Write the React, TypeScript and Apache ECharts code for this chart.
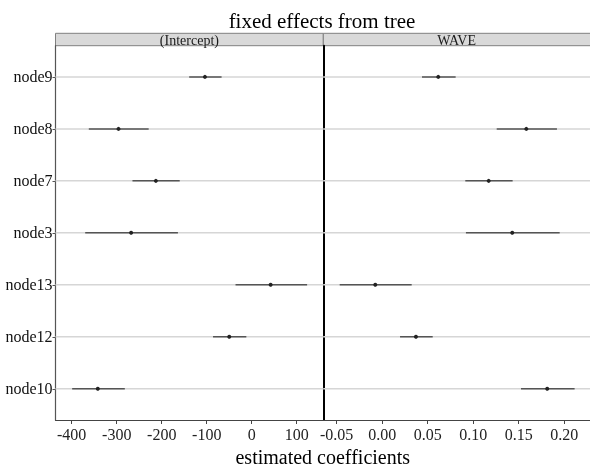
import React, { useEffect, useRef } from "react";
import * as echarts from "echarts";

const categories = ["node9", "node8", "node7", "node3", "node13", "node12", "node10"];

const interceptEst = [-104, -296, -213, -268, 42, -50, -342];
const interceptLow = [-139, -362, -265, -370, -36, -86, -399];
const interceptHigh = [-67, -229, -160, -164, 123, -12, -282];

const waveEst = [0.0616, 0.1583, 0.117, 0.1429, -0.0076, 0.0371, 0.1813];
const waveLow = [0.0437, 0.1258, 0.0913, 0.092, -0.0467, 0.0196, 0.1525];
const waveHigh = [0.0807, 0.192, 0.1433, 0.195, 0.0324, 0.0555, 0.2114];

const interceptTicks = [-400, -300, -200, -100, 0, 100];
const waveTicks = [-0.05, 0, 0.05, 0.1, 0.15, 0.2];

const panelNames = ["(Intercept)", "WAVE"];
const titleText = "fixed effects from tree";
const xTitle = "estimated coefficients";

const FONT = "'Liberation Serif', 'Times New Roman', serif";

const L = 55.5;
const MID = 323.3;
const R = 590;
const TOP = 45.7;
const BOTTOM = 420;
const STRIP_TOP = 33.3;

export default function App() {
  const ref = useRef<HTMLDivElement>(null);

  useEffect(() => {
    document.body.style.margin = "0";
    if (!ref.current) return;
    const chart = echarts.init(ref.current, null, { renderer: "svg" });

    const yIdx = categories.map((_, i) => i + 1);

    const errData = (low: number[], high: number[], est: number[]) =>
      categories.map((_, i) => [i + 1, low[i], high[i], est[i]]);

    const errSeries = (k: number, low: number[], high: number[], est: number[]) => ({
      type: "custom",
      xAxisIndex: k,
      yAxisIndex: k,
      z: 5,
      silent: true,
      data: errData(low, high, est),
      encode: { x: [1, 2, 3], y: 0 },
      renderItem: (params: any, api: any) => {
        const y = api.value(0);
        const p1 = api.coord([api.value(1), y]);
        const p2 = api.coord([api.value(2), y]);
        const pe = api.coord([api.value(3), y]);
        return {
          type: "group",
          children: [
            {
              type: "line",
              shape: { x1: p1[0], y1: p1[1], x2: p2[0], y2: p2[1] },
              style: { stroke: "#555555", lineWidth: 1.5 },
            },
            {
              type: "circle",
              shape: { cx: pe[0], cy: pe[1], r: 2 },
              style: { fill: "#222222" },
            },
          ],
        };
      },
    });

    const gridSeries = (k: number, xRef: number) => ({
      type: "custom",
      xAxisIndex: k,
      yAxisIndex: k,
      z: 1,
      silent: true,
      data: yIdx.map((v) => [xRef, v]),
      encode: { x: 0, y: 1 },
      renderItem: (params: any, api: any) => {
        const cs = params.coordSys;
        const p = api.coord([api.value(0), api.value(1)]);
        return {
          type: "line",
          shape: { x1: cs.x, y1: p[1], x2: cs.x + cs.width, y2: p[1] },
          style: { stroke: "#d6d6d6", lineWidth: 1.5 },
        };
      },
    });

    const xAxisCommon = {
      type: "value",
      splitLine: { show: false },
      axisLine: { show: true, onZero: false, lineStyle: { color: "#444444", width: 1.2 } },
      axisTick: { show: true, length: 4, lineStyle: { color: "#444444" } },
    };

    const option: any = {
      animation: false,
      title: {
        text: titleText,
        left: 317,
        textAlign: "center",
        top: 5,
        textStyle: { fontFamily: FONT, fontSize: 21, fontWeight: "normal", color: "#000" },
      },
      grid: [
        { left: L, right: 590 - MID, top: TOP, bottom: 467 - BOTTOM },
        { left: MID, right: 590 - R, top: TOP, bottom: 467 - BOTTOM },
      ],
      xAxis: [
        {
          ...xAxisCommon,
          gridIndex: 0,
          min: -436,
          max: 159,
          axisTick: { ...xAxisCommon.axisTick, customValues: interceptTicks },
          axisLabel: {
            customValues: interceptTicks,
            formatter: (v: number) => String(Math.round(v)),
            fontFamily: FONT,
            fontSize: 16,
            color: "#222",
            margin: 6,
          },
        },
        {
          ...xAxisCommon,
          gridIndex: 1,
          min: -0.0647,
          max: 0.2283,
          axisTick: { ...xAxisCommon.axisTick, customValues: waveTicks },
          axisLabel: {
            customValues: waveTicks,
            formatter: (v: number) => v.toFixed(2),
            fontFamily: FONT,
            fontSize: 16,
            color: "#222",
            margin: 6,
          },
        },
      ],
      yAxis: [
        {
          type: "value",
          gridIndex: 0,
          min: 0.4,
          max: 7.6,
          inverse: true,
          splitLine: { show: false },
          axisLine: { show: true, onZero: false, lineStyle: { color: "#555555", width: 1.2 } },
          axisTick: { show: true, length: 3, customValues: yIdx, lineStyle: { color: "#555555" } },
          axisLabel: {
            customValues: yIdx,
            formatter: (v: number) => categories[Math.round(v) - 1] ?? "",
            fontFamily: FONT,
            fontSize: 16,
            color: "#111",
            margin: 3,
          },
        },
        {
          type: "value",
          gridIndex: 1,
          min: 0.4,
          max: 7.6,
          inverse: true,
          splitLine: { show: false },
          axisLine: { show: true, onZero: false, lineStyle: { color: "#000000", width: 2 } },
          axisTick: { show: false },
          axisLabel: { show: false },
        },
      ],
      series: [
        gridSeries(0, 0),
        gridSeries(1, 0),
        errSeries(0, interceptLow, interceptHigh, interceptEst),
        errSeries(1, waveLow, waveHigh, waveEst),
      ],
      graphic: [
        {
          type: "rect",
          shape: { x: L, y: STRIP_TOP, width: MID - L, height: TOP - STRIP_TOP },
          style: { fill: "#d9d9d9", stroke: "#808080", lineWidth: 1 },
        },
        {
          type: "rect",
          shape: { x: MID, y: STRIP_TOP, width: R - MID + 2, height: TOP - STRIP_TOP },
          style: { fill: "#d9d9d9", stroke: "#808080", lineWidth: 1 },
        },
        {
          type: "text",
          x: (L + MID) / 2,
          y: (STRIP_TOP + TOP) / 2 + 0.5,
          style: {
            text: panelNames[0],
            fontFamily: FONT,
            fontSize: 14,
            fill: "#1a1a1a",
            textAlign: "center",
            textVerticalAlign: "middle",
          },
        },
        {
          type: "text",
          x: (MID + R) / 2,
          y: (STRIP_TOP + TOP) / 2 + 0.5,
          style: {
            text: panelNames[1],
            fontFamily: FONT,
            fontSize: 14,
            fill: "#1a1a1a",
            textAlign: "center",
            textVerticalAlign: "middle",
          },
        },
        {
          type: "text",
          x: (L + R) / 2,
          y: 457,
          style: {
            text: xTitle,
            fontFamily: FONT,
            fontSize: 20,
            fill: "#000",
            textAlign: "center",
            textVerticalAlign: "middle",
          },
        },
      ],
    };

    chart.setOption(option);
    return () => chart.dispose();
  }, []);

  return (
    <div
      ref={ref}
      style={{ position: "fixed", left: 0, top: 0, width: 590, height: 467 }}
    />
  );
}
